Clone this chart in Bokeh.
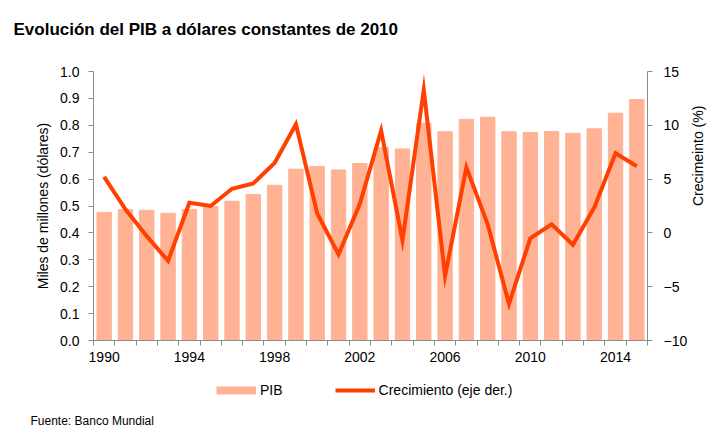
import math
from bokeh.plotting import figure
from bokeh.layouts import column
from bokeh.models import (Range1d, LinearAxis, FixedTicker, Legend, LegendItem,
                          Title, PrintfTickFormatter, ColumnDataSource)
from bokeh.embed import file_html
from bokeh.resources import INLINE

# ---- data ----
years = list(range(1990, 2016))
pib = [0.476, 0.487, 0.484, 0.473, 0.487, 0.498, 0.518, 0.543, 0.577, 0.637,
       0.647, 0.634, 0.658, 0.718, 0.712, 0.808, 0.776, 0.822, 0.830, 0.776,
       0.773, 0.777, 0.770, 0.787, 0.845, 0.896]
growth = [5.2, 2.2, -0.3, -2.6, 2.8, 2.5, 4.1, 4.6, 6.5, 10.1,
          1.8, -2.0, 2.7, 9.5, -0.7, 13.3, -4.0, 6.1, 0.8, -6.6,
          -0.5, 0.8, -1.1, 2.35, 7.4, 6.2]
x_tick_years = [1990, 1994, 1998, 2002, 2006, 2010, 2014]
left_ticks = [0.0, 0.1, 0.2, 0.3, 0.4, 0.5, 0.6, 0.7, 0.8, 0.9, 1.0]
right_ticks = [-10, -5, 0, 5, 10, 15]

title_text = "Evolución del PIB a dólares constantes de 2010"
left_label = "Miles de millones (dólares)"
right_label = "Crecimeinto (%)"
bar_name = "PIB"
line_name = "Crecimiento (eje der.)"
source_text = "Fuente: Banco Mundial"

FONT = "Liberation Sans"
AXIS_COLOR = "#8c8c8c"
BAR_COLOR = "#FFB394"
LINE_COLOR = "#FF4000"
W = 719


def strip(height):
    f = figure(width=W, height=height, x_range=Range1d(0, 1), y_range=Range1d(0, 1),
               x_axis_type=None, y_axis_type=None, output_backend="svg",
               toolbar_location=None, min_border=0,
               min_border_top=0, min_border_bottom=0,
               background_fill_color="white", border_fill_color="white")
    f.outline_line_color = None
    f.xgrid.visible = False
    f.ygrid.visible = False
    return f


# ---- title strip ----
p_top = strip(50)
p_top.add_layout(Title(text=title_text, align="left", offset=-80, standoff=23,
                       vertical_align="bottom",
                       text_font=FONT, text_font_size="17px",
                       text_font_style="bold", text_color="black"), "below")

# ---- main chart ----
src = ColumnDataSource(dict(year=years, pib=pib, growth=growth))

p = figure(frame_width=554, frame_height=269,
           x_range=Range1d(years[0] - 0.5, years[-1] + 0.5),
           y_range=Range1d(0, 1),
           output_backend="svg", toolbar_location=None,
           min_border_left=93, min_border_right=72,
           min_border_top=21, min_border_bottom=30,
           background_fill_color="white", border_fill_color="white")
p.extra_y_ranges = {"g": Range1d(-10, 15)}
p.outline_line_color = None
p.xgrid.visible = False
p.ygrid.visible = False

bars = p.vbar(x="year", top="pib", width=0.675, source=src,
              fill_color=BAR_COLOR, line_color=BAR_COLOR)
line = p.line(x="year", y="growth", source=src, y_range_name="g",
              line_color=LINE_COLOR, line_width=4, line_join="miter")

xa = p.xaxis[0]
xa.ticker = FixedTicker(ticks=x_tick_years,
                        minor_ticks=[y - 0.5 for y in years] + [years[-1] + 0.5])
xa.major_tick_line_color = None
xa.minor_tick_out = 5
xa.minor_tick_in = 0
xa.minor_tick_line_color = AXIS_COLOR
xa.axis_line_color = AXIS_COLOR
xa.major_label_text_font = FONT
xa.major_label_text_font_size = "14px"
xa.major_label_text_color = "black"
xa.major_label_standoff = 5

ya = p.yaxis[0]
ya.ticker = FixedTicker(ticks=left_ticks)
ya.formatter = PrintfTickFormatter(format="%.1f")
ya.axis_line_color = AXIS_COLOR
ya.major_tick_line_color = AXIS_COLOR
ya.major_tick_out = 5
ya.major_tick_in = 0
ya.minor_tick_line_color = None
ya.major_label_text_font = FONT
ya.major_label_text_font_size = "14px"
ya.major_label_text_color = "black"
ya.major_label_standoff = 9
ya.axis_label = left_label
ya.axis_label_text_font = FONT
ya.axis_label_text_font_size = "14px"
ya.axis_label_text_font_style = "normal"
ya.axis_label_text_color = "black"
ya.axis_label_standoff = 6

ra = LinearAxis(y_range_name="g", ticker=FixedTicker(ticks=right_ticks))
ra.axis_line_color = AXIS_COLOR
ra.major_tick_line_color = AXIS_COLOR
ra.major_tick_out = 5
ra.major_tick_in = 0
ra.minor_tick_line_color = None
ra.major_label_text_font = FONT
ra.major_label_text_font_size = "14px"
ra.major_label_text_color = "black"
ra.major_label_standoff = 11
ra.axis_label = right_label
ra.axis_label_text_font = FONT
ra.axis_label_text_font_size = "14px"
ra.axis_label_text_font_style = "normal"
ra.axis_label_text_color = "black"
ra.axis_label_standoff = 8
try:
    ra.axis_label_orientation = math.pi / 2
except Exception:
    pass
p.add_layout(ra, "right")

# ---- legend + source strip ----
p_bot = strip(60)
nan = float("nan")
sw_bar = p_bot.line(x=[nan, nan], y=[nan, nan], line_color=BAR_COLOR, line_width=8)
sw_line = p_bot.line(x=[nan, nan], y=[nan, nan], line_color=LINE_COLOR, line_width=4)
leg = Legend(items=[LegendItem(label=bar_name, renderers=[sw_bar]),
                    LegendItem(label=line_name, renderers=[sw_line])],
             orientation="horizontal", location=(123, 11),
             glyph_width=40, glyph_height=16, label_height=16,
             label_standoff=4, spacing=52, padding=0, margin=0,
             border_line_color=None, background_fill_alpha=0,
             label_text_font=FONT, label_text_font_size="14px",
             label_text_color="black")
p_bot.add_layout(leg)
p_bot.add_layout(Title(text=source_text, align="left", offset=-63, standoff=5,
                       vertical_align="bottom",
                       text_font=FONT, text_font_size="12px",
                       text_font_style="normal", text_color="black"), "below")

layout = column(p_top, p, p_bot, spacing=0)
open("out.html", "w").write(file_html(layout, INLINE))
